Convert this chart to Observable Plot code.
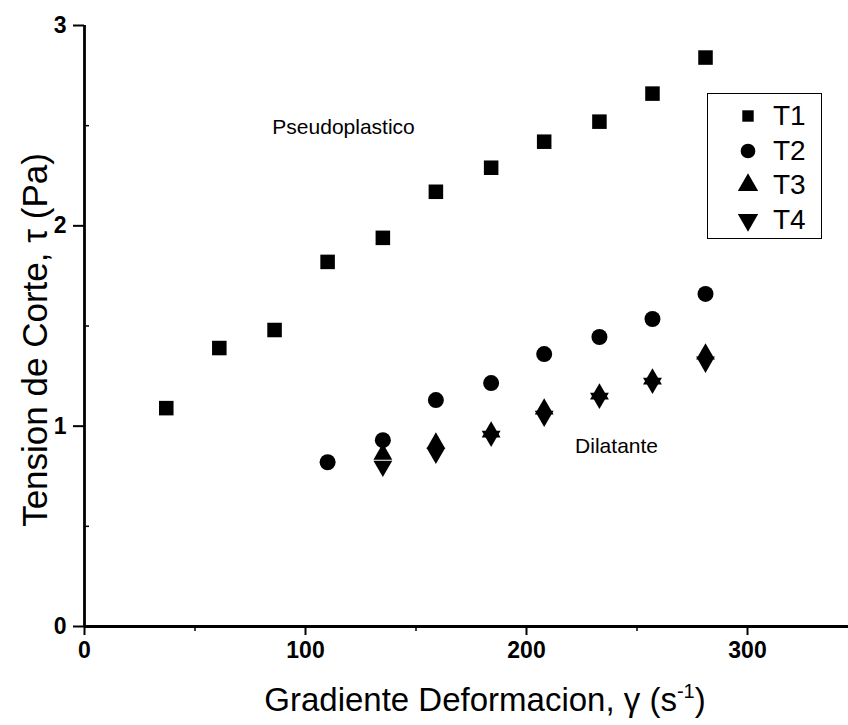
<!DOCTYPE html>
<html><head><meta charset="utf-8">
<script src="https://cdn.jsdelivr.net/npm/d3@7"></script>
<script src="https://cdn.jsdelivr.net/npm/@observablehq/plot@0.6"></script>
<style>
body{margin:0;background:#fff;}
#chart{position:relative;width:848px;height:725px;font-family:"Liberation Sans",Arial,sans-serif;}
#legend{position:absolute;left:707px;top:93px;width:113px;height:144px;border:1.5px solid #000;background:#fff;}
.row{position:absolute;left:0;width:113px;height:34px;}
.row svg{position:absolute;left:26px;top:0;}
.row span{position:absolute;left:65px;top:1px;font-size:28px;line-height:31px;color:#000;}
</style></head><body><div id="chart"></div>
<script>
// Data
const shearRate1 = [37, 61, 86, 110, 135, 159, 184, 208, 233, 257, 281];
const tauT1 = [1.09, 1.39, 1.48, 1.82, 1.94, 2.17, 2.29, 2.42, 2.52, 2.66, 2.84];
const shearRate2 = [110, 135, 159, 184, 208, 233, 257, 281];
const tauT2 = [0.82, 0.93, 1.13, 1.215, 1.36, 1.445, 1.535, 1.66];
const shearRate34 = [135, 159, 184, 208, 233, 257, 281];
const tauT3 = [0.86, 0.915, 0.97, 1.085, 1.16, 1.235, 1.36];
const tauT4 = [0.80, 0.865, 0.95, 1.05, 1.14, 1.215, 1.32];
const seriesNames = ["T1", "T2", "T3", "T4"];
const xTicks = [0, 100, 200, 300];
const xMinorTicks = [50, 150, 250];
const yTicks = [0, 1, 2, 3];
const yMinorTicks = [0.5, 1.5, 2.5];
const annotationLabels = ["Pseudoplastico", "Dilatante"];
const annotationX = [85, 222];
const annotationY = [2.49, 0.9];

const sqrt3 = Math.sqrt(3);
const triangleDown = {
  draw(context, size) {
    const y = -Math.sqrt(size / (sqrt3 * 3));
    context.moveTo(0, -y * 2);
    context.lineTo(-sqrt3 * y, y);
    context.lineTo(sqrt3 * y, y);
    context.closePath();
  }
};
const symbols = ["square", "circle", "triangle", triangleDown];
const radii = [8.2, 8.0, 7.0, 7.0];

const t1 = shearRate1.map((x, i) => ({x, y: tauT1[i]}));
const t2 = shearRate2.map((x, i) => ({x, y: tauT2[i]}));
const t3 = shearRate34.map((x, i) => ({x, y: tauT3[i]}));
const t4 = shearRate34.map((x, i) => ({x, y: tauT4[i]}));
const seriesData = [t1, t2, t3, t4];
const annotations = annotationLabels.map((label, i) => ({label, x: annotationX[i], y: annotationY[i]}));

const chart = Plot.plot({
  width: 848,
  height: 725,
  marginLeft: 84,
  marginRight: 0,
  marginTop: 25,
  marginBottom: 99,
  style: {fontFamily: "Liberation Sans, Arial, sans-serif", background: "#fff", color: "#000", overflow: "visible"},
  x: {domain: [0, 345.7]},
  y: {domain: [0, 3]},
  marks: [
    Plot.axisX(xTicks, {tickSize: 9, tickPadding: 6, fontSize: 23, fontWeight: "bold", label: null, strokeWidth: 2, tickFormat: d => String(d)}),
    Plot.axisX(xMinorTicks, {tickSize: 5, text: null, label: null, strokeWidth: 1.5}),
    Plot.axisY(yTicks, {tickSize: 11, tickPadding: 7, fontSize: 23, fontWeight: "bold", label: null, strokeWidth: 2, tickFormat: d => String(d)}),
    Plot.axisY(yMinorTicks, {tickSize: -5, text: null, label: null, strokeWidth: 1.5}),
    Plot.ruleX([0], {strokeWidth: 2.8}),
    Plot.ruleY([0], {strokeWidth: 2.8}),
    ...seriesData.map((d, i) => Plot.dot(d, {x: "x", y: "y", symbol: symbols[i], r: radii[i], fill: "#000", stroke: "none"})),
    Plot.text(annotations, {x: "x", y: "y", text: "label", textAnchor: "start", fontSize: 21, fill: "#000"})
  ]
});
document.getElementById("chart").appendChild(chart);

// Axis titles
const svg = d3.select(chart);
const xt = svg.append("text").attr("x", 485).attr("y", 711).attr("text-anchor", "middle")
  .attr("font-size", 33).attr("fill", "#000");
xt.append("tspan").text("Gradiente Deformacion, γ (s");
xt.append("tspan").attr("font-size", 20).attr("dy", -13).text("-1");
xt.append("tspan").attr("dy", 13).text(")");
svg.append("text").attr("transform", "translate(47,340) rotate(-90)").attr("text-anchor", "middle")
  .attr("font-size", 35).attr("fill", "#000").text("Tension de Corte, τ (Pa)");

// Legend
const legend = document.createElement("div");
legend.id = "legend";
const typeMap = {square: d3.symbolSquare, circle: d3.symbolCircle, triangle: d3.symbolTriangle};
const legendSizes = [130, 170, 180, 180];
seriesNames.forEach((name, i) => {
  const row = document.createElement("div");
  row.className = "row";
  row.style.top = (5 + i * 34.5) + "px";
  const s = d3.create("svg").attr("width", 28).attr("height", 34);
  const t = typeof symbols[i] === "string" ? typeMap[symbols[i]] : symbols[i];
  s.append("path").attr("transform", "translate(14,17)").attr("d", d3.symbol(t, legendSizes[i])()).attr("fill", "#000");
  row.appendChild(s.node());
  const span = document.createElement("span");
  span.textContent = name;
  row.appendChild(span);
  legend.appendChild(row);
});
document.getElementById("chart").appendChild(legend);
</script>
</body></html>
